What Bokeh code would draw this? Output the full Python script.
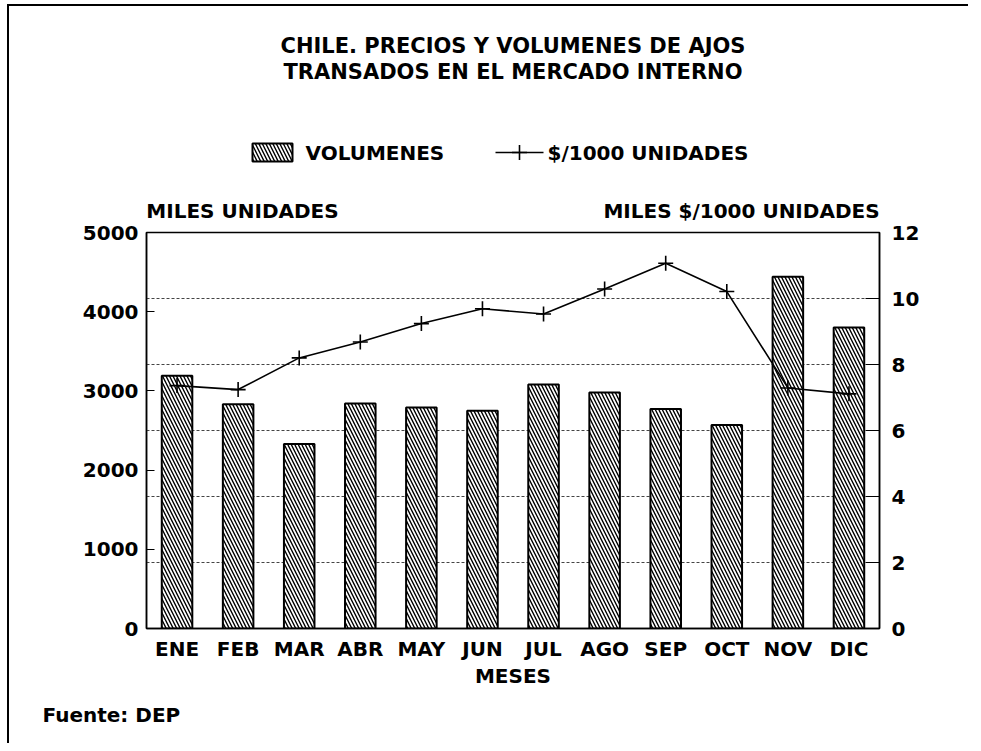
from bokeh.plotting import figure
from bokeh.models import (Range1d, LinearAxis, FixedTicker, Grid, Title, Label)
from bokeh.layouts import column
from bokeh.embed import file_html
from bokeh.resources import INLINE

# ---- data ----
months = ["ENE", "FEB", "MAR", "ABR", "MAY", "JUN", "JUL", "AGO", "SEP", "OCT", "NOV", "DIC"]
volumes = [3190, 2830, 2330, 2840, 2790, 2750, 3080, 2980, 2770, 2570, 4440, 3800]
prices = [7.36, 7.24, 8.20, 8.68, 9.24, 9.69, 9.53, 10.29, 11.07, 10.21, 7.29, 7.11]
left_ticks = [0, 1000, 2000, 3000, 4000, 5000]
right_ticks = [0, 2, 4, 6, 8, 10, 12]

title1 = "CHILE. PRECIOS Y VOLUMENES DE AJOS"
title2 = "TRANSADOS EN EL MERCADO INTERNO"
legend_bar_label = "VOLUMENES"
legend_line_label = "$/1000 UNIDADES"
left_unit = "MILES UNIDADES"
right_unit = "MILES $/1000 UNIDADES"
source_note = "Fuente: DEP"
FONT = "DejaVu Sans"

FW, FH = 733, 396
BL, BR = 137, 89
HEAD_H = 180
xpos = [i + 1 for i in range(len(months))]   # month slots on the x scale

BAR_STYLE = dict(fill_color="white", line_color="black", line_width=2,
                 hatch_pattern="\\", hatch_color="black", hatch_scale=7, hatch_weight=1.4)
LINE_STYLE = dict(line_color="black", line_width=1.6)

def txt(fig, text, x, y, align="center", size="20px"):
    fig.add_layout(Label(x=x, y=y, text=text, text_align=align, text_baseline="middle",
                         text_font=FONT, text_font_style="bold", text_font_size=size,
                         text_color="black"))

# ---------------- header: titles + legend (pixel-unit ranges) ----------------
h = figure(frame_width=FW, frame_height=HEAD_H,
           x_range=Range1d(0, FW), y_range=Range1d(0, HEAD_H),
           min_border_left=BL, min_border_right=BR, min_border_top=0, min_border_bottom=0,
           x_axis_location=None, y_axis_location=None,
           output_backend="svg", toolbar_location=None, title=None)
h.outline_line_color = None
h.xgrid.visible = False
h.ygrid.visible = False
h.background_fill_color = "white"
h.border_fill_color = "white"

txt(h, title1, FW / 2, 141, size="21px")
txt(h, title2, FW / 2, 115, size="21px")

# legend key
LEG_Y = 34
h.rect(x=[126], y=[LEG_Y], width=40, height=18, **BAR_STYLE)
txt(h, legend_bar_label, 159, LEG_Y, "left")
h.line(x=[349, 397], y=[LEG_Y, LEG_Y], **LINE_STYLE)
h.scatter(x=[373], y=[LEG_Y], marker="cross", size=15, **LINE_STYLE)
txt(h, legend_line_label, 401, LEG_Y, "left")

# ---------------- main chart ----------------
p = figure(x_range=Range1d(0.5, len(months) + 0.5),
           y_range=Range1d(0, 5000),
           frame_width=FW, frame_height=FH,
           min_border_left=BL, min_border_right=BR,
           min_border_top=46, min_border_bottom=115,
           output_backend="svg", toolbar_location=None, title=None)
p.background_fill_color = "white"
p.border_fill_color = "white"
p.outline_line_color = "black"
p.outline_line_width = 1.5
p.xgrid.visible = False
p.ygrid.visible = False

def style_labels(ax, size="20px"):
    ax.major_label_text_font = FONT
    ax.major_label_text_font_style = "bold"
    ax.major_label_text_font_size = size
    ax.major_label_text_color = "black"

# left axis
la = p.yaxis[0]
la.ticker = FixedTicker(ticks=left_ticks)
la.major_tick_in = 8
la.major_tick_out = 0
la.minor_tick_line_color = None
la.axis_line_color = "black"
la.axis_line_width = 1.5
la.major_label_standoff = 8
style_labels(la)

# right axis
p.extra_y_ranges = {"price": Range1d(0, 12)}
ra = LinearAxis(y_range_name="price", ticker=FixedTicker(ticks=right_ticks))
ra.major_tick_in = 14
ra.major_tick_out = 0
ra.minor_tick_line_color = None
ra.axis_line_color = "black"
ra.axis_line_width = 1.5
ra.major_label_standoff = 12
style_labels(ra)
p.add_layout(ra, "right")

# x axis (months)
xa = p.xaxis[0]
xa.ticker = FixedTicker(ticks=xpos)
xa.major_label_overrides = {x: m for x, m in zip(xpos, months)}
xa.major_tick_in = 0
xa.major_tick_out = 0
xa.minor_tick_line_color = None
xa.axis_line_color = "black"
xa.axis_line_width = 1.5
xa.major_label_standoff = 8
style_labels(xa)
xa.axis_label = "MESES"
xa.axis_label_text_font = FONT
xa.axis_label_text_font_style = "bold"
xa.axis_label_text_font_size = "20px"
xa.axis_label_text_color = "black"
xa.axis_label_standoff = 0

# unit captions above the frame (left-aligned / right-aligned)
p.extra_x_ranges = {"cap": Range1d(0, FW)}
cap_pos = [96, FW - 138]
ua = LinearAxis(x_range_name="cap", ticker=FixedTicker(ticks=cap_pos),
                major_label_overrides={cap_pos[0]: left_unit, cap_pos[1]: right_unit})
ua.axis_line_color = None
ua.major_tick_line_color = None
ua.minor_tick_line_color = None
ua.major_label_standoff = 4
style_labels(ua)
p.add_layout(ua, "above")

# dotted grid on price axis
grid = Grid(dimension=1, ticker=FixedTicker(ticks=right_ticks), y_range_name="price",
            grid_line_color="#444444", grid_line_dash="3 2", grid_line_width=1)
p.add_layout(grid)

p.vbar(x=xpos, top=volumes, width=0.5, **BAR_STYLE)
p.line(x=xpos, y=prices, y_range_name="price", **LINE_STYLE)
p.scatter(x=xpos, y=prices, y_range_name="price", marker="cross", size=15, **LINE_STYLE)

p.add_layout(Title(text=source_note, align="left", offset=-104, text_font=FONT,
                   text_font_style="bold", text_font_size="20px", text_color="black",
                   standoff=20), "below")

layout = column(h, p, spacing=0)
layout.styles = {"margin-top": "4px", "margin-left": "7px",
                 "border-top": "2px solid black", "border-left": "2px solid black"}

open("out.html", "w").write(file_html(layout, INLINE))
